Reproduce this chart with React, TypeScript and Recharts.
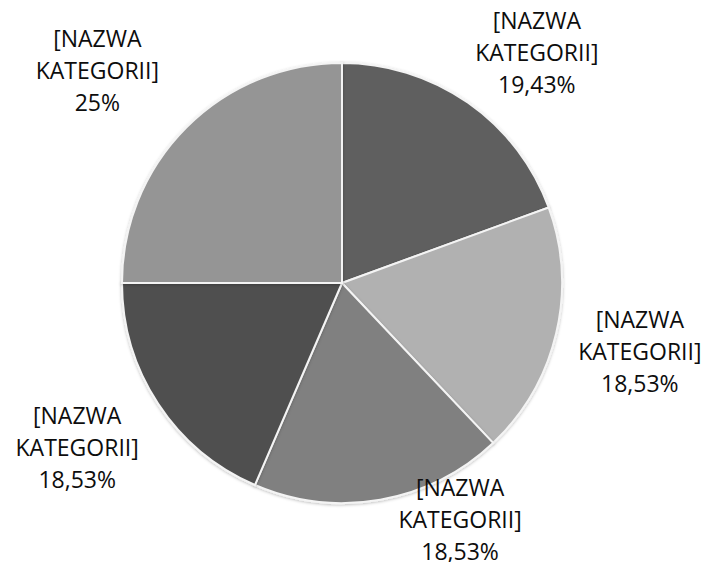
import React from 'react';
import { PieChart, Pie, Cell } from 'recharts';

const categories = ['[NAZWA KATEGORII]', '[NAZWA KATEGORII]', '[NAZWA KATEGORII]', '[NAZWA KATEGORII]', '[NAZWA KATEGORII]'];
const shares = [19.43, 18.53, 18.53, 18.53, 25];
const percentLabels = ['19,43%', '18,53%', '18,53%', '18,53%', '25%'];

const COLORS = ['#5f5f5f', '#b1b1b1', '#808080', '#4f4f4f', '#959595'];
// nudges from the radial label position (Excel "best fit" style)
const LABEL_NUDGE = [
  [20, 19],
  [1, -2],
  [65, -64],
  [-10, -4],
  [-29, 3],
];

const data = categories.map((name, i) => ({ name, value: shares[i], pct: percentLabels[i] }));

const RAD = Math.PI / 180;

const renderLabel = (props: any) => {
  const { cx, cy, midAngle, outerRadius, index } = props;
  const r = outerRadius + 85;
  const x = cx + r * Math.cos(-midAngle * RAD) + LABEL_NUDGE[index][0];
  const y = cy + r * Math.sin(-midAngle * RAD) + LABEL_NUDGE[index][1];
  const parts = ['[NAZWA', 'KATEGORII]', data[index].pct];
  return (
    <text x={x} y={y} textAnchor="middle" fill="#0d0d0d" fontSize={23} fontFamily="'Open Sans', sans-serif">
      {parts.map((p, k) => (
        <tspan key={k} x={x} y={y + (k - 1) * 32} dominantBaseline="central">{p}</tspan>
      ))}
    </text>
  );
};

const App: React.FC = () => {
  return (
    <div style={{ position: 'absolute', left: 0, top: 0, width: 702, height: 562, background: '#fff' }}>
      <PieChart width={702} height={562} margin={{ top: 0, right: 0, bottom: 0, left: 0 }}>
        <defs>
          <filter id="pieShadow" x="-10%" y="-10%" width="120%" height="120%">
            <feDropShadow dx="0" dy="1" stdDeviation="1.5" floodColor="#000" floodOpacity="0.25" />
          </filter>
        </defs>
        <Pie
          data={data}
          dataKey="value"
          nameKey="name"
          cx={342}
          cy={283}
          outerRadius={220}
          startAngle={90}
          endAngle={-270}
          stroke="#f4f4f4"
          strokeWidth={2}
          label={renderLabel}
          labelLine={false}
          isAnimationActive={false}
          style={{ filter: 'url(#pieShadow)' }}
        >
          {data.map((d, i) => (
            <Cell key={`cell-${i}`} fill={COLORS[i]} />
          ))}
        </Pie>
      </PieChart>
    </div>
  );
};

export default App;
